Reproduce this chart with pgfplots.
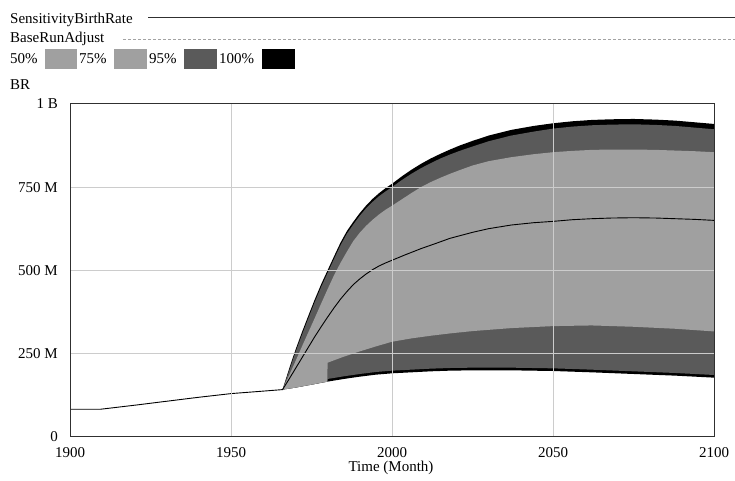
\documentclass[border=0pt]{standalone}
\usepackage{pgfplots}
\pgfplotsset{compat=1.18}
\usepackage{fontspec}
\setmainfont{Liberation Serif}
\definecolor{lightband}{HTML}{A0A0A0}
\definecolor{darkband}{HTML}{5A5A5A}
\definecolor{gridgray}{HTML}{CCCCCC}
\definecolor{axisgray}{HTML}{303030}
\begin{document}
\fontsize{15bp}{18bp}\selectfont
\begin{tikzpicture}
\path[use as bounding box] (0,0) rectangle (735bp,481bp);
% header
\node[anchor=base west, inner sep=0pt] at (10bp,457bp) {SensitivityBirthRate};
\draw[axisgray, line width=1bp] (148bp,463bp) -- (735bp,463bp);
\node[anchor=base west, inner sep=0pt] at (10bp,438bp) {BaseRunAdjust};
\draw[gridgray!80!black, line width=0.8bp, dash pattern=on 3bp off 2bp] (123bp,442bp) -- (735bp,442bp);
\node[anchor=base west, inner sep=0pt] at (10bp,417bp) {50\%};
\fill[lightband] (45bp,412bp) rectangle (77bp,432bp);
\node[anchor=base west, inner sep=0pt] at (79bp,417bp) {75\%};
\fill[lightband] (114bp,412bp) rectangle (147bp,432bp);
\node[anchor=base west, inner sep=0pt] at (149bp,417bp) {95\%};
\fill[darkband] (184bp,412bp) rectangle (217bp,432bp);
\node[anchor=base west, inner sep=0pt] at (219bp,417bp) {100\%};
\fill[black] (262bp,412bp) rectangle (295bp,432bp);
\node[anchor=base west, inner sep=0pt] at (10bp,391bp) {BR};
\node[anchor=center, inner sep=0pt] at (391bp,13bp) {Time (Month)};
\begin{axis}[
  at={(70bp,44.5bp)}, anchor=south west,
  scale only axis, width=644bp, height=332.5bp,
  xmin=1900, xmax=2100, ymin=0, ymax=1000,
  xtick={1900,1950,2000,2050,2100},
  ytick={0,250,500,750,1000},
  yticklabels={0,250 M,500 M,750 M,1 B},
  /pgf/number format/1000 sep={},
  /pgf/number format/assume math mode=true,
  tick label style={font=\fontsize{15bp}{18bp}\selectfont},
  yticklabel style={xshift=-7bp},
  xticklabel style={yshift=-6bp},
  major tick length=0pt,
  grid=major,
  major grid style={draw=gridgray, line width=1bp},
  axis line style={draw=axisgray, line width=1bp},
  axis on top,
]
% 100% band: max forward, min backward
\addplot[fill=black, draw=none] table {
1966 141
1968 202
1970 260
1972 313
1974 363
1976 412
1978 458
1980 500
1982 542
1984 583
1986 618
1988 646
1990 672
1992 695
1994 715
1996 732
1998 747
2000 760
2003 782
2006 802
2009 820
2012 836
2015 850
2018 863
2021 875
2025 889
2030 905
2037 922
2044 934
2050 942
2056 948
2062 952
2068 954
2075 955
2082 953
2088 950
2094 945
2100 940
2100 177
2088 183
2075 188
2062 193
2050 197
2037 199
2025 199
2018 198
2012 196
2006 193
2000 190
1995 186
1990 180
1985 173
1980 165
1975 156
1970 147
};
% 95% band
\addplot[fill=darkband, draw=none] table {
1966 141
1968 196
1970 253
1972 305
1974 355
1976 404
1978 450
1980 492
1982 534
1984 575
1986 610
1988 638
1990 664
1992 687
1994 706
1996 723
1998 737
2000 750
2003 771
2006 790
2009 807
2012 822
2015 836
2018 848
2021 859
2025 872
2030 888
2037 905
2044 917
2050 926
2056 932
2062 936
2068 938
2075 939
2082 937
2088 934
2094 929
2100 924
2100 185
2088 191
2075 196
2062 201
2050 205
2037 207
2025 207
2018 206
2012 204
2006 201
2000 198
1995 194
1990 188
1985 181
1980 173
1979.9 165
1975 156
1970 147
};
% 75% / 50% band
\addplot[fill=lightband, draw=none] table {
1966 141
1968 183
1970 226
1972 270
1974 313
1976 356
1978 400
1980 443
1982 485
1984 522
1986 556
1988 588
1990 613
1992 634
1994 652
1996 668
1998 682
2000 694
2003 713
2006 732
2009 750
2012 765
2015 778
2018 790
2021 801
2025 815
2030 828
2037 840
2044 849
2050 855
2056 859
2062 862
2068 863
2075 863
2082 862
2088 860
2094 858
2100 855
2100 316
2088 324
2075 330
2062 334
2050 332
2037 326
2025 317
2018 310
2012 303
2006 295
2000 285
1995 271
1990 256
1985 240
1980 222
1979.9 165
1975 156
1970 147
};
% base run / median line
\addplot[black, line width=0.9bp] table {
1900 82
1909.5 82
1920 94
1930 106
1940 118
1950 129
1958 135
1966 141
1968 172
1970 204
1972 236
1974 268
1976 300
1978 330
1980 359
1982 387
1984 413
1986 436
1988 457
1990 474
1992 489
1994 502
1996 513
1998 522
2000 530
2004 546
2009 565
2014 582
2018 596
2025 614
2030 625
2037 636
2044 643
2050 647
2056 652
2062 655
2068 657
2075 658
2082 657
2088 655
2094 653
2100 650
};
\end{axis}
\end{tikzpicture}
\end{document}
